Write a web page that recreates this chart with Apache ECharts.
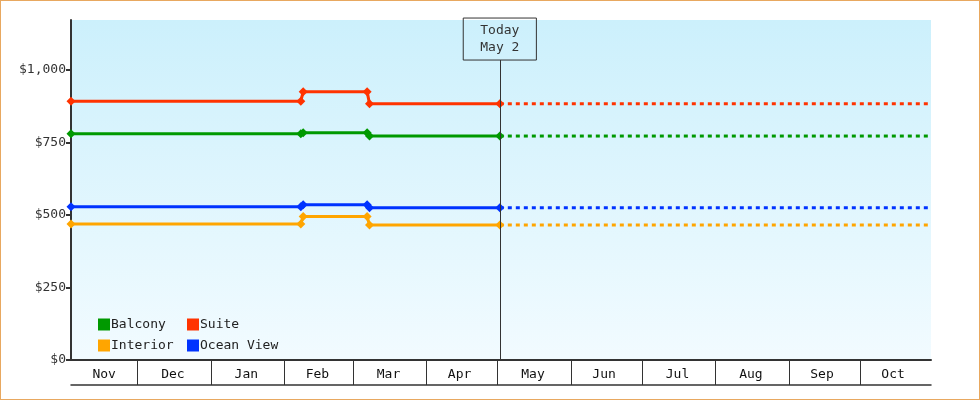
<!DOCTYPE html>
<html><head><meta charset="utf-8">
<script src="https://cdn.jsdelivr.net/npm/echarts@6/dist/echarts.min.js"></script>
<style>html,body{margin:0;padding:0;background:#fff}#c{width:980px;height:400px;box-sizing:border-box;border:1px solid #e8a860}</style>
</head><body><div id="c"></div>
<script>
const seriesNames = ['Balcony','Suite','Interior','Ocean View'];
const colors = ['#009900','#ff3300','#ffa500','#0033ff'];
const dates = ['2023-11-03','2024-02-08','2024-02-09','2024-03-07','2024-03-08','2024-05-02'];
const balcony = [780,780,783,783,772,772];
const suite = [892,892,925,925,883,883];
const interior = [469,469,495,495,465,465];
const oceanView = [528,528,535,535,525,525];
const forecastDates = ['2024-05-02','2024-10-31'];
const today = '2024-05-02';
const monthStarts = ['2023-12-01','2024-01-01','2024-02-01','2024-03-01','2024-04-01','2024-05-01','2024-06-01','2024-07-01','2024-08-01','2024-09-01','2024-10-01'];
const monthMids = ['2023-11-17','2023-12-16','2024-01-16','2024-02-15','2024-03-16','2024-04-15','2024-05-16','2024-06-15','2024-07-16','2024-08-16','2024-09-15','2024-10-15'];
const monthNames = ['Jan','Feb','Mar','Apr','May','Jun','Jul','Aug','Sep','Oct','Nov','Dec'];
const yTicks = [0,250,500,750,1000];

const FONT = 'DejaVu Sans Mono';
const t = s=>Date.UTC(+s.slice(0,4),+s.slice(5,7)-1,+s.slice(8,10));
const vals = [balcony,suite,interior,oceanView];
const series = [];
vals.forEach((v,i)=>{
  series.push({name:seriesNames[i],type:'line',data:dates.map((d,j)=>[t(d),v[j]]),
    lineStyle:{width:3,color:colors[i]},itemStyle:{color:colors[i]},symbol:'diamond',symbolSize:9,z:3});
  series.push({name:seriesNames[i]+' forecast',type:'line',data:forecastDates.map(d=>[t(d),v[v.length-1]]),
    lineStyle:{width:3,type:[4,4],color:colors[i]},itemStyle:{color:colors[i]},showSymbol:false,symbol:'none'});
});
series[0].markLine = {silent:true,symbol:'none',animation:false,
  lineStyle:{color:'#333',width:1,type:'solid'},
  label:{position:'end',formatter:'Today\nMay 2',fontFamily:FONT,fontSize:13,color:'#333',
    borderColor:'#333',borderWidth:1,padding:[4,17,4,17],lineHeight:17,distance:0},
  data:[[{coord:[t(today),0]},{coord:[t(today),1034]}]]};
const chart = echarts.init(document.getElementById('c'));
const xmin=t('2023-11-03'), xmax=t('2024-10-31');
chart.setOption({
  animation:false,
  grid:{left:70,right:48,top:19,bottom:39,show:true,borderWidth:0,
    backgroundColor:{type:'linear',x:0,y:0,x2:0,y2:1,colorStops:[{offset:0,color:'#ccf0fc'},{offset:1,color:'#f2fbff'}]}},
  legend:[
    {data:['Balcony','Interior'],orient:'vertical',left:92,top:312,itemWidth:12,itemHeight:12,itemGap:8,icon:'rect',
      textStyle:{fontFamily:FONT,fontSize:13,color:'#222',padding:[0,0,0,-4]}},
    {data:['Suite','Ocean View'],orient:'vertical',left:181,top:312,itemWidth:12,itemHeight:12,itemGap:8,icon:'rect',
      textStyle:{fontFamily:FONT,fontSize:13,color:'#222',padding:[0,0,0,-4]}}
  ],
  xAxis:[{type:'value',min:xmin,max:xmax,
    axisLine:{lineStyle:{color:'#333',width:2}},
    axisTick:{show:true,length:25,lineStyle:{color:'#333',width:1},customValues:monthStarts.map(t)},
    axisLabel:{customValues:monthMids.map(t),formatter:v=>monthNames[new Date(v).getUTCMonth()],
      fontFamily:FONT,fontSize:13,color:'#111',margin:8},
    splitLine:{show:false}},
   {type:'value',position:'bottom',offset:25,min:xmin,max:xmax,
    axisLine:{show:true,lineStyle:{color:'#333',width:1.5}},axisTick:{show:false},axisLabel:{show:false},splitLine:{show:false}}],
  yAxis:{type:'value',min:0,max:1172,
    axisLine:{show:true,lineStyle:{color:'#333',width:2}},
    axisTick:{show:true,length:5,lineStyle:{color:'#333',width:2},customValues:yTicks},
    axisLabel:{customValues:yTicks,formatter:v=>'$'+v.toLocaleString('en-US'),fontFamily:FONT,fontSize:13,color:'#333',margin:5},
    splitLine:{show:false}},
  series
});
</script></body></html>
